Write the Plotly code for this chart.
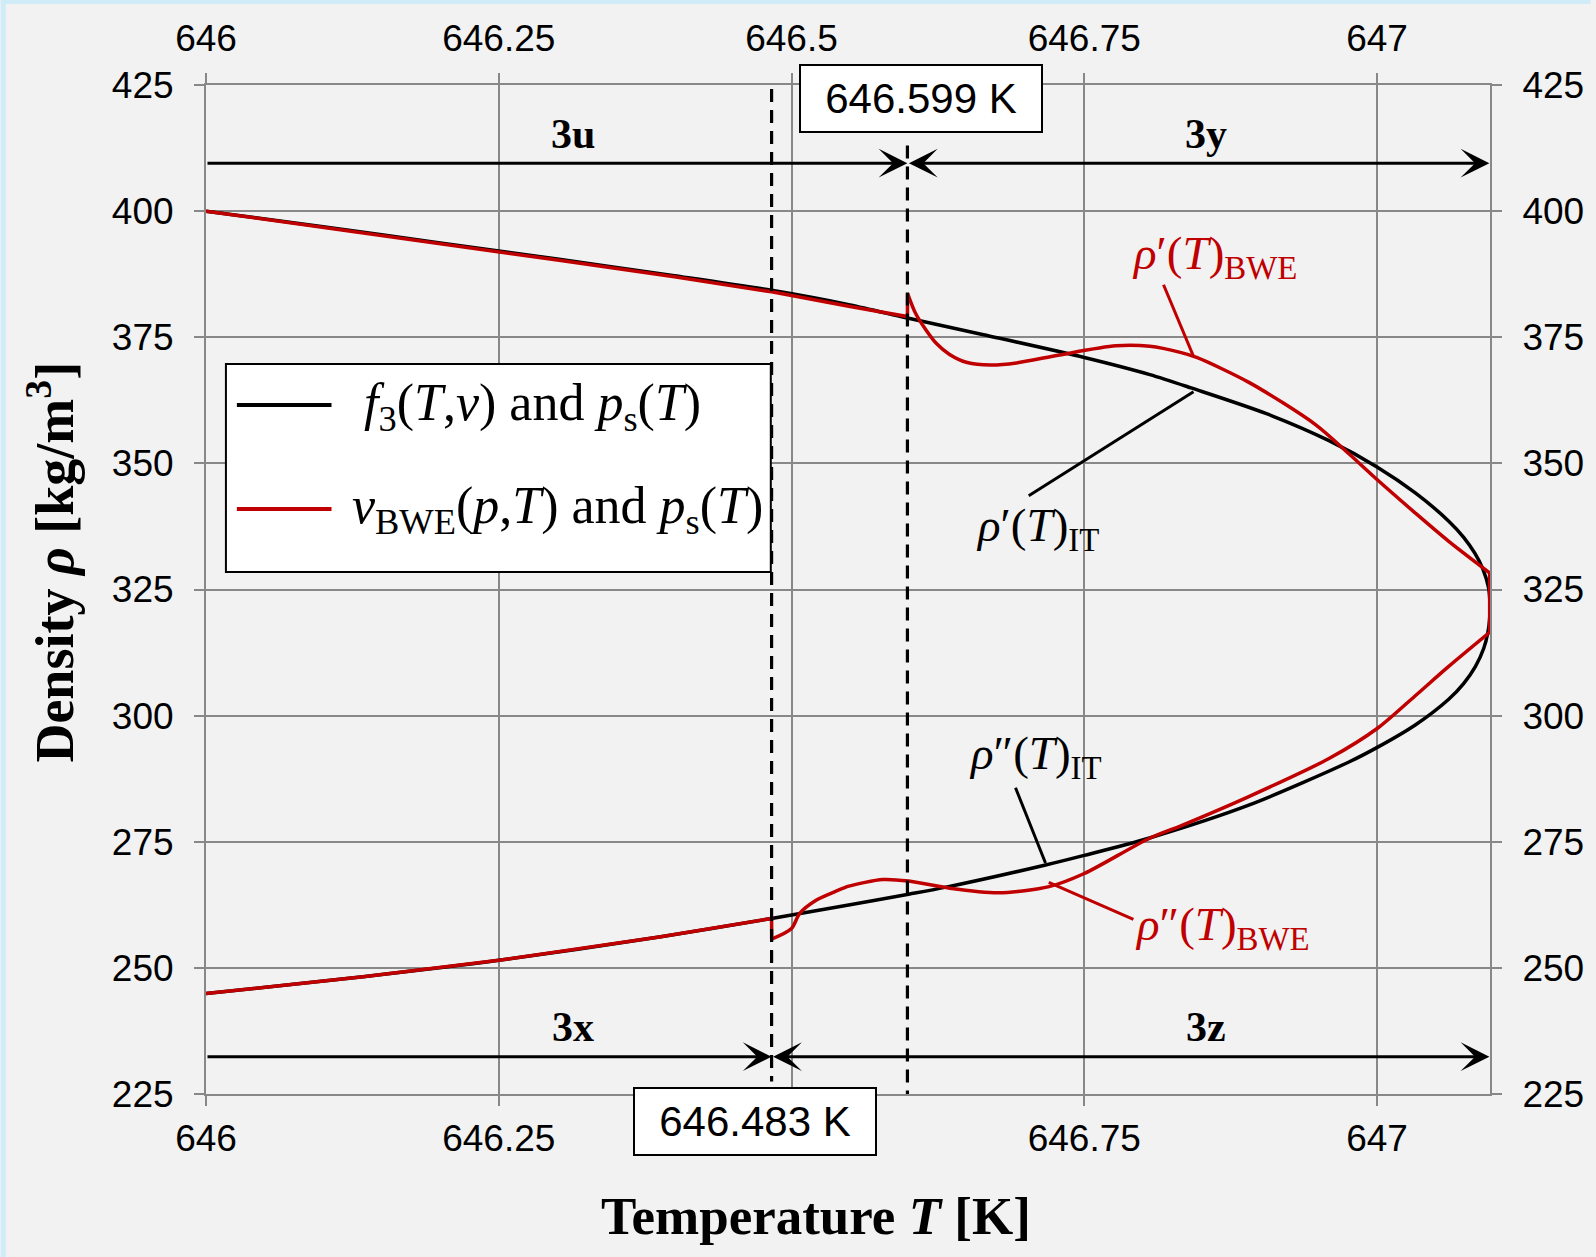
import plotly.graph_objects as go

# ---------------- data ----------------
# saturated liquid density from f3(T,v) and ps(T)  (black, upper branch)
T_liq_IT = [646.000, 646.100, 646.200, 646.300, 646.400, 646.483, 646.550, 646.599,
            646.664, 646.750, 646.806, 646.842, 646.905, 646.959, 647.000, 647.033,
            647.0615, 647.0742, 647.0835, 647.0902, 647.0953, 647.0965]
rho_liq_IT = [400.0, 396.9, 393.7, 390.5, 387.2, 384.3, 381.4, 378.8,
              375.5, 371.0, 367.6, 364.9, 359.9, 354.5, 349.3, 344.1,
              338.5, 335.3, 332.2, 329.2, 325.3, 322.3]
# saturated vapour density from f3(T,v) and ps(T)  (black, lower branch)
T_vap_IT = [646.000, 646.136, 646.250, 646.387, 646.483, 646.550, 646.600, 646.632,
            646.717, 646.750, 646.805, 646.891, 646.976, 647.001, 647.033, 647.061,
            647.0738, 647.084, 647.0911, 647.0947, 647.0962, 647.0965]
rho_vap_IT = [244.9, 248.3, 251.5, 256.1, 259.8, 262.5, 264.6, 266.0,
              270.4, 272.3, 275.7, 282.3, 290.8, 293.8, 298.2, 303.2,
              306.3, 309.7, 313.3, 316.5, 319.3, 322.3]
# saturated liquid density from v_BWE(p,T) and ps(T)  (red, upper branch)
T_liq_BWE = [646.000, 646.100, 646.200, 646.300, 646.400, 646.483, 646.550, 646.599,
             646.5991, 646.606, 646.615, 646.624, 646.635, 646.650, 646.670, 646.692,
             646.729, 646.777, 646.806, 646.832, 646.846, 646.891, 646.948, 646.976,
             647.000, 647.032, 647.061, 647.0962]
rho_liq_BWE = [400.0, 396.8, 393.6, 390.3, 387.0, 384.0, 381.1, 379.1,
               383.7, 379.7, 376.4, 373.7, 371.6, 370.0, 369.5, 369.9,
               371.5, 373.3, 373.2, 372.0, 371.0, 366.0, 357.6, 351.9,
               346.8, 340.3, 334.6, 328.3]
# saturated vapour density from v_BWE(p,T) and ps(T)  (red, lower branch)
T_vap_BWE = [646.000, 646.136, 646.250, 646.387, 646.483, 646.4831, 646.500, 646.507,
             646.521, 646.539, 646.549, 646.578, 646.600, 646.635, 646.677, 646.720,
             646.750, 646.805, 646.834, 646.891, 646.959, 647.001, 647.032, 647.061,
             647.0962]
rho_vap_BWE = [244.9, 248.3, 251.5, 256.1, 259.8, 255.7, 257.8, 260.8,
               263.4, 265.3, 266.2, 267.5, 267.2, 265.8, 264.9, 266.1,
               268.7, 275.6, 278.3, 284.0, 291.5, 297.6, 303.8, 309.7,
               316.5]
# region boundaries
boundary_T = [646.483, 646.599]
boundary_labels = ["646.483 K", "646.599 K"]
region_labels = ["3u", "3y", "3x", "3z"]

x_tickvals = [646, 646.25, 646.5, 646.75, 647]
x_ticktext_top = ["646", "646.25", "646.5", "646.75", "647"]
x_ticktext_bottom = ["646", "646.25", "", "646.75", "647"]  # 646.5 hidden by box
y_tickvals = [225, 250, 275, 300, 325, 350, 375, 400, 425]
x_range = [646, 647.0965]
y_range = [225, 425]

# ---------------- layout helpers ----------------
W, H = 1596, 1257
L, R, TM, B = 206, 101, 85, 163
PW, PH = W - L - R, H - TM - B


def pxx(xp):
    return (xp - L) / PW


def pxy(yp):
    return (H - B - yp) / PH


RED = "#c00000"
GRID = "#888888"
BG = "#f2f2f2"
SERIF = "Liberation Serif, Times New Roman, serif"
SANS = "Liberation Sans, Arial, sans-serif"

fig = go.Figure()


def add_line(xs, ys, color, shape="linear"):
    fig.add_trace(go.Scatter(
        x=xs, y=ys, mode="lines",
        line=dict(color=color, width=3.5, shape=shape, smoothing=0.8),
        showlegend=False, hoverinfo="skip"))


# black: f3(T,v) and ps(T)
add_line(T_liq_IT + T_vap_IT[::-1], rho_liq_IT + rho_vap_IT[::-1], "black", "spline")

# red: v_BWE(p,T) and ps(T) -- smooth pieces joined by sharp corners
i_sp = T_liq_BWE.index(646.5991)
i_jp = T_vap_BWE.index(646.4831)
add_line(T_liq_BWE[:i_sp + 1], rho_liq_BWE[:i_sp + 1], RED, "linear")
add_line(T_liq_BWE[i_sp:], rho_liq_BWE[i_sp:], RED, "spline")
add_line([T_liq_BWE[-1], T_vap_BWE[-1]], [rho_liq_BWE[-1], rho_vap_BWE[-1]], RED, "linear")
add_line(T_vap_BWE[i_jp:], rho_vap_BWE[i_jp:], RED, "spline")
add_line(T_vap_BWE[:i_jp + 1], rho_vap_BWE[:i_jp + 1], RED, "linear")

# dashed boundaries
fig.add_trace(go.Scatter(
    x=[boundary_T[0], boundary_T[0]], y=[424.2, 227.5], mode="lines",
    line=dict(color="black", width=3.2, dash="13px,8px"), showlegend=False,
    hoverinfo="skip"))
fig.add_trace(go.Scatter(
    x=[boundary_T[1], boundary_T[1]], y=[413, 225], mode="lines",
    line=dict(color="black", width=3.2, dash="13px,8px"), showlegend=False,
    hoverinfo="skip"))
# invisible trace on the mirrored axes
fig.add_trace(go.Scatter(x=x_range, y=y_range, xaxis="x2", yaxis="y2",
                         mode="lines", line=dict(width=0), opacity=0,
                         showlegend=False, hoverinfo="skip"))

axis_common = dict(
    showgrid=True, gridcolor=GRID, gridwidth=2,
    showline=True, linecolor=GRID, linewidth=2,
    ticks="outside", ticklen=10, tickwidth=2, tickcolor=GRID,
    tickfont=dict(family=SANS, size=37, color="black"),
    zeroline=False,
)

fig.update_layout(
    width=W, height=H, autosize=False,
    margin=dict(l=L, r=R, t=TM, b=B, pad=0),
    paper_bgcolor=BG, plot_bgcolor=BG,
    showlegend=False,
    xaxis=dict(range=x_range, tickvals=x_tickvals, ticktext=x_ticktext_bottom,
               ticklabelstandoff=1, **axis_common),
    yaxis=dict(range=y_range, tickvals=y_tickvals, ticklabelstandoff=13,
               **axis_common),
    xaxis2=dict(range=x_range, tickvals=x_tickvals, ticktext=x_ticktext_top,
                overlaying="x", side="top", anchor="y",
                ticklabelstandoff=7, **{**axis_common, "showgrid": False}),
    yaxis2=dict(range=y_range, tickvals=y_tickvals, overlaying="y",
                side="right", anchor="x", ticklabelstandoff=13,
                **{**axis_common, "showgrid": False}),
)

shapes = []
# light blue border (top and left)
shapes.append(dict(type="rect", xref="paper", yref="paper",
                   x0=pxx(0), x1=pxx(W), y0=pxy(0), y1=pxy(4),
                   fillcolor="#cfecf8", line=dict(width=0), layer="above"))
shapes.append(dict(type="rect", xref="paper", yref="paper",
                   x0=pxx(0), x1=pxx(5), y0=pxy(0), y1=pxy(H),
                   fillcolor="#cfecf8", line=dict(width=0), layer="above"))
# legend box
shapes.append(dict(type="rect", xref="paper", yref="paper",
                   x0=pxx(226), x1=pxx(773), y0=pxy(364), y1=pxy(572),
                   fillcolor="white", line=dict(color="black", width=2),
                   layer="above"))
shapes.append(dict(type="line", xref="paper", yref="paper",
                   x0=pxx(237), x1=pxx(332), y0=pxy(405), y1=pxy(405),
                   line=dict(color="black", width=4), layer="above"))
shapes.append(dict(type="line", xref="paper", yref="paper",
                   x0=pxx(237), x1=pxx(332), y0=pxy(509), y1=pxy(509),
                   line=dict(color=RED, width=4), layer="above"))
# leader lines
shapes.append(dict(type="line", xref="x", yref="y", x0=646.7026, y0=343.6,
                   x1=646.8433, y1=364.2, line=dict(color="black", width=3)))
shapes.append(dict(type="line", xref="x", yref="y", x0=646.8177, y0=385.4,
                   x1=646.8433, y1=371.2, line=dict(color=RED, width=3)))
shapes.append(dict(type="line", xref="x", yref="y", x0=646.6913, y0=285.7,
                   x1=646.7169, y1=270.8, line=dict(color="black", width=3)))
shapes.append(dict(type="line", xref="x", yref="y", x0=646.7197, y0=266.97,
                   x1=646.792, y1=259.6, line=dict(color=RED, width=3)))
fig.update_layout(shapes=shapes)

ann = []
# legend texts
leg_font = 52
ann.append(dict(xref="paper", yref="paper", x=pxx(363), y=pxy(406),
                xanchor="left", yanchor="middle", showarrow=False,
                text="<i>f</i><sub>3</sub>(<i>T</i>,<i>v</i>) and <i>p</i><sub>s</sub>(<i>T</i>)",
                font=dict(family=SERIF, size=leg_font, color="black")))
ann.append(dict(xref="paper", yref="paper", x=pxx(351), y=pxy(510),
                xanchor="left", yanchor="middle", showarrow=False,
                text="<i>v</i><sub>BWE</sub>(<i>p</i>,<i>T</i>) and <i>p</i><sub>s</sub>(<i>T</i>)",
                font=dict(family=SERIF, size=leg_font, color="black")))
# curve labels
lab_font = 47
ann.append(dict(xref="x", yref="y", x=646.861, y=391.0, showarrow=False,
                text="<i>ρ</i>′(<i>T</i>)<sub>BWE</sub>",
                font=dict(family=SERIF, size=lab_font, color=RED)))
ann.append(dict(xref="x", yref="y", x=646.7105, y=337.0, showarrow=False,
                text="<i>ρ</i>′(<i>T</i>)<sub>IT</sub>",
                font=dict(family=SERIF, size=lab_font, color="black")))
ann.append(dict(xref="x", yref="y", x=646.7085, y=291.8, showarrow=False,
                text="<i>ρ</i>″(<i>T</i>)<sub>IT</sub>",
                font=dict(family=SERIF, size=lab_font, color="black")))
ann.append(dict(xref="x", yref="y", x=646.868, y=258.0, showarrow=False,
                text="<i>ρ</i>″(<i>T</i>)<sub>BWE</sub>",
                font=dict(family=SERIF, size=lab_font, color=RED)))
# region arrows
arrow_top, arrow_bot = 409.5, 232.4
x_end = 647.096
arrow_style = dict(xref="x", yref="y", axref="x", ayref="y", text="",
                   showarrow=True, arrowcolor="black", arrowwidth=3,
                   arrowhead=3, arrowsize=1.6)
ann.append(dict(x=boundary_T[1], y=arrow_top, ax=646.0, ay=arrow_top, **arrow_style))
ann.append(dict(x=x_end, y=arrow_top, ax=boundary_T[1], ay=arrow_top,
                arrowside="end+start", startarrowhead=3, startarrowsize=1.6,
                **arrow_style))
ann.append(dict(x=boundary_T[0], y=arrow_bot, ax=646.0, ay=arrow_bot, **arrow_style))
ann.append(dict(x=x_end, y=arrow_bot, ax=boundary_T[0], ay=arrow_bot,
                arrowside="end+start", startarrowhead=3, startarrowsize=1.6,
                **arrow_style))
# region labels
reg_pos = [(646.313, 415.3), (646.854, 415.3), (646.313, 238.2), (646.854, 238.2)]
for lab, (xx, yy) in zip(region_labels, reg_pos):
    ann.append(dict(xref="x", yref="y", x=xx, y=yy, showarrow=False,
                    text="<b>" + lab + "</b>",
                    font=dict(family=SERIF, size=42, color="black")))
# boundary boxes
box_pos = [(757.5, 1121.5), (924, 98.5)]
for lab, (bx, by) in zip(boundary_labels, box_pos):
    ann.append(dict(xref="paper", yref="paper", x=pxx(bx), y=pxy(by),
                    xanchor="center", yanchor="middle", showarrow=False,
                    text=lab, bgcolor="white", bordercolor="black",
                    borderwidth=2, borderpad=1, width=238, height=63,
                    font=dict(family=SANS, size=42, color="black")))
# axis titles
ann.append(dict(xref="paper", yref="paper", x=pxx(818), y=pxy(1216),
                xanchor="center", yanchor="middle", showarrow=False,
                text="<b>Temperature <i>T</i> [K]</b>",
                font=dict(family=SERIF, size=53, color="black")))
ann.append(dict(xref="paper", yref="paper", x=pxx(50), y=pxy(562),
                xanchor="center", yanchor="middle", showarrow=False,
                textangle=-90,
                text="<b>Density <i>ρ</i> [kg/m<sup>3</sup>]</b>",
                font=dict(family=SERIF, size=54, color="black")))
fig.update_layout(annotations=ann)

fig.write_html("out.html")
